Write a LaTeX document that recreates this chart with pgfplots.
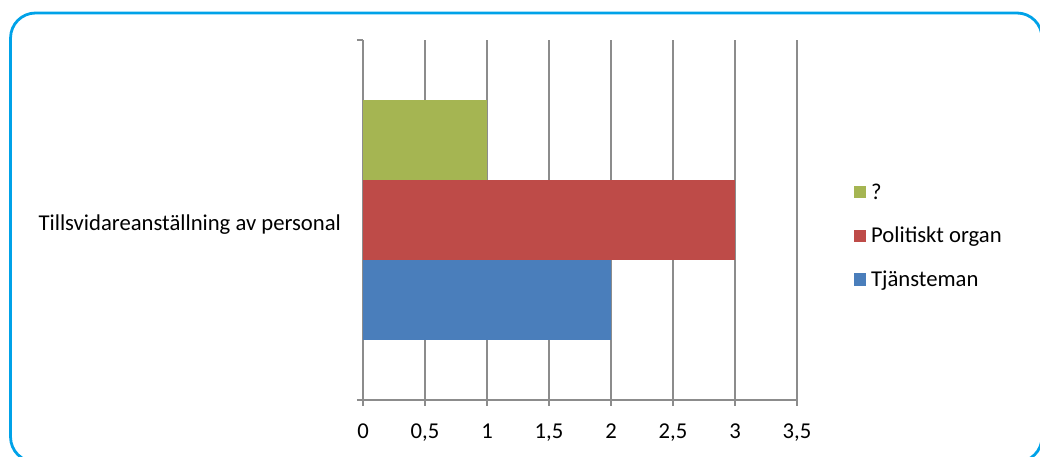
\documentclass[border=0pt]{standalone}
\usepackage{pgfplots}
\pgfplotsset{compat=1.18}
\usepackage{fontspec}
\setmainfont{Carlito}
\definecolor{bordercol}{HTML}{00A2E8}
\definecolor{axgray}{HTML}{8C8C8C}
\definecolor{cblue}{HTML}{4A7EBB}
\definecolor{cred}{HTML}{BE4B48}
\definecolor{cgreen}{HTML}{A5B552}
\begin{document}
\begin{tikzpicture}[font=\fontsize{17pt}{20pt}\selectfont]
\useasboundingbox (0,0) rectangle (780pt,342.75pt);
\clip (0,0) rectangle (780pt,342.75pt);
\draw[bordercol, line width=2.1pt, rounded corners=18.75pt] (7.9pt,333pt) rectangle (781.5pt,-3.75pt);
\begin{axis}[
  at={(272.25pt,42.75pt)}, anchor=south west,
  scale only axis, width=325.5pt, height=270pt,
  xbar, bar width=60pt,
  xmin=0, xmax=3.5, ymin=-0.5, ymax=0.5,
  axis x line*=bottom, axis y line*=left,
  axis line style={axgray, line width=1.3pt},
  tick style={axgray, line width=1.3pt},
  tick align=outside, major tick length=4.5pt,
  xtick={0,0.5,1,1.5,2,2.5,3,3.5},
  xticklabels={0,{0,5},1,{1,5},2,{2,5},3,{3,5}},
  xticklabel style={yshift=-10pt},
  xmajorgrids, major grid style={axgray, line width=1.3pt},
  ytick={-0.5,0.5}, yticklabels={},
  extra y ticks={0},
  extra y tick labels={Tillsvidareanställning av personal},
  extra y tick style={major tick length=0pt, yticklabel style={xshift=-13pt, yshift=-3.5pt}},
  legend style={draw=none, fill=none, at={(1.122,0.4556)}, anchor=west,
    row sep=15.5pt, font=\fontsize{17pt}{20pt}\selectfont,
    legend cell align=left,
    /tikz/every odd column/.append style={column sep=1.5pt}},
  legend image code/.code={\fill[#1] (0pt,-4.6pt) rectangle (9.2pt,4.6pt);},
]
\addplot[fill=cgreen, draw=none, bar shift=60pt] coordinates {(1,0)};
\addlegendentry{?}
\addplot[fill=cred, draw=none, bar shift=0pt] coordinates {(3,0)};
\addlegendentry{Politiskt organ}
\addplot[fill=cblue, draw=none, bar shift=-60pt] coordinates {(2,0)};
\addlegendentry{Tjänsteman}
\end{axis}
\end{tikzpicture}
\end{document}
